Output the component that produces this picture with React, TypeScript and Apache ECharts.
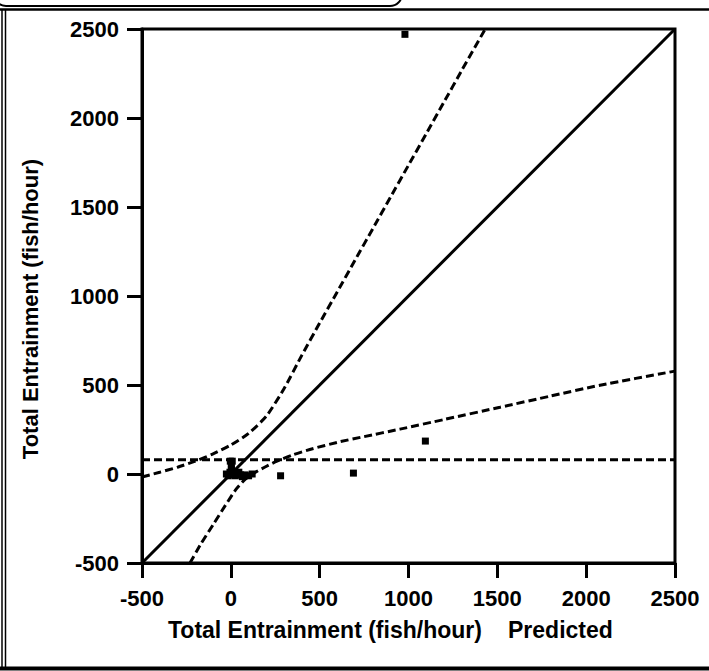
import React, { useEffect, useRef } from "react";
import * as echarts from "echarts";

// Axis ticks
const axisMin = -500;
const axisMax = 2500;
const axisStep = 500;

// Observed vs predicted entrainment points (fish/hour)
const predicted = [980, 1095, 690, 280, -25, -15, -5, 0, 5, 15, 25, 35, 45, 55, 65, 80, 100, 120, 3, -3, 8, 3];
const observed = [2470, 185, 5, -10, 0, -10, 10, -5, 15, 5, -10, 0, 10, -5, -15, -5, -10, 0, 30, 72, 72, 50];

// 1:1 line
const oneToOneX = [-500, 2500];
const oneToOneY = [-500, 2500];

// Mean observed line
const meanX = [-500, 2500];
const meanY = [80, 80];

// Upper confidence branch
const upperX = [-500, -400, -300, -200, -100, 0, 100, 200, 300, 400, 500, 600, 700, 800, 900, 1000, 1100, 1200, 1300, 1432];
const upperY = [-17, 10, 38, 72, 113, 163, 228, 325, 480, 668, 848, 1025, 1203, 1380, 1558, 1735, 1912, 2090, 2268, 2500];

// Lower confidence branch
const lowerX = [-230, -170, -100, -30, 30, 80, 130, 190, 260, 350, 460, 600, 750, 952, 1200, 1515, 1800, 2078, 2500];
const lowerY = [-500, -395, -285, -175, -85, -30, 5, 38, 72, 108, 142, 178, 210, 252, 306, 375, 438, 499, 578];

const xTitle = "Total Entrainment (fish/hour)";
const xTitle2 = "Predicted";
const yTitle = "Total Entrainment (fish/hour)";

const FONT = "Liberation Sans, Arial, Helvetica, sans-serif";

const zip = (a: number[], b: number[]) => a.map((v, i) => [v, b[i]]);

export default function App() {
  const ref = useRef<HTMLDivElement>(null);
  useEffect(() => {
    if (!ref.current) return;
    const chart = echarts.init(ref.current, undefined, { renderer: "svg" });
    const axisCommon = {
      type: "value" as const,
      min: axisMin,
      max: axisMax,
      interval: axisStep,
      splitLine: { show: false },
      axisLine: { show: true, onZero: false, lineStyle: { color: "#000", width: 3 } },
      axisTick: { show: true, inside: false, length: 15, lineStyle: { color: "#000", width: 3 } },
      axisLabel: {
        color: "#000",
        fontFamily: FONT,
        fontWeight: "bold" as const,
        fontSize: 22,
        showMinLabel: true,
        showMaxLabel: true,
        formatter: (v: number) => String(v),
      },
    };
    const lineSeries = (x: number[], y: number[], dashed: boolean, smooth: number | boolean) => ({
      type: "line" as const,
      data: zip(x, y),
      symbol: "none",
      smooth,
      clip: true,
      lineStyle: { color: "#000", width: 3, type: dashed ? [8, 4] : "solid" },
      z: 3,
    });
    chart.setOption({
      animation: false,
      backgroundColor: "#fff",
      grid: {
        left: 142,
        top: 29,
        width: 533,
        height: 534,
        show: true,
        borderColor: "#000",
        borderWidth: 3,
        containLabel: false,
      },
      xAxis: { ...axisCommon, axisLabel: { ...axisCommon.axisLabel, margin: 24 } },
      yAxis: { ...axisCommon, axisLabel: { ...axisCommon.axisLabel, margin: 23 } },
      series: [
        lineSeries(oneToOneX, oneToOneY, false, false),
        lineSeries(meanX, meanY, true, false),
        lineSeries(upperX, upperY, true, 0.2),
        lineSeries(lowerX, lowerY, true, 0.2),
        {
          type: "scatter",
          data: zip(predicted, observed),
          symbol: "rect",
          symbolSize: 7,
          itemStyle: { color: "#000", opacity: 1 },
          z: 4,
        },
      ],
      graphic: [
        // outer frame
        { type: "line", shape: { x1: 0, y1: 9.5, x2: 709, y2: 9.5 }, style: { stroke: "#000", lineWidth: 2.5 } },
        { type: "line", shape: { x1: 2, y1: 9, x2: 2, y2: 670 }, style: { stroke: "#000", lineWidth: 1.5 } },
        { type: "line", shape: { x1: 5.5, y1: 9, x2: 5.5, y2: 668 }, style: { stroke: "#000", lineWidth: 1.5 } },
        { type: "line", shape: { x1: 0, y1: 668.5, x2: 709, y2: 668.5 }, style: { stroke: "#000", lineWidth: 4 } },
        // tab at top-left
        {
          type: "rect",
          shape: { x: -6, y: -30, width: 408, height: 36, r: 12 },
          style: { fill: "none", stroke: "#000", lineWidth: 2 },
        },
        // axis titles
        {
          type: "text",
          x: 168,
          y: 630,
          style: {
            text: xTitle,
            fill: "#000",
            font: `bold 23px ${FONT}`,
            textAlign: "left",
            textVerticalAlign: "middle",
          },
        },
        {
          type: "text",
          x: 508,
          y: 630,
          style: {
            text: xTitle2,
            fill: "#000",
            font: `bold 23px ${FONT}`,
            textAlign: "left",
            textVerticalAlign: "middle",
          },
        },
        {
          type: "text",
          x: 30,
          y: 309,
          rotation: Math.PI / 2,
          style: {
            text: yTitle,
            fill: "#000",
            font: `bold 22px ${FONT}`,
            textAlign: "center",
            textVerticalAlign: "middle",
          },
        },
      ],
    });
    return () => chart.dispose();
  }, []);
  return (
    <div
      ref={ref}
      style={{ position: "fixed", left: 0, top: 0, width: 709, height: 671, background: "#fff" }}
    />
  );
}
